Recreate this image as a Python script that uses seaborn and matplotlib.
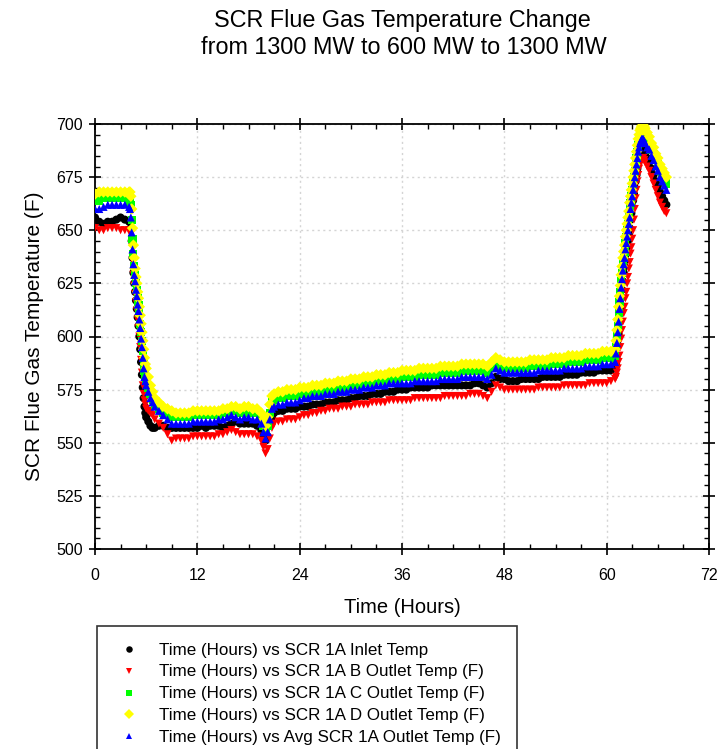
import matplotlib
matplotlib.use("Agg")
import matplotlib.pyplot as plt
from matplotlib.ticker import MultipleLocator
import pandas as pd
import seaborn as sns

# Sample times (hours since start of the load change)
hours = [
    0, 0.5, 1, 1.5, 2, 2.5, 3, 3.5, 4,
    4.1, 4.2, 4.3, 4.4, 4.5, 4.6, 4.7, 4.8, 4.9, 5.0,
    5.1, 5.2, 5.3, 5.4, 5.5, 5.6, 5.7, 5.8, 5.9, 6.0,
    6.25, 6.5, 6.75, 7.0,
    7.5, 8, 8.5, 9, 9.5, 10, 10.5, 11, 11.5, 12, 12.5, 13, 13.5,
    14, 14.5, 15, 15.5, 16, 16.5, 17, 17.5, 18, 18.5, 19, 19.5,
    19.75, 20, 20.25, 20.5, 20.75, 21,
    21.5, 22, 22.5, 23, 23.5, 24, 24.5, 25, 25.5, 26,
    26.5, 27, 27.5, 28, 28.5, 29, 29.5, 30, 30.5, 31,
    31.5, 32, 32.5, 33, 33.5, 34, 34.5, 35, 35.5, 36,
    36.5, 37, 37.5, 38, 38.5, 39, 39.5, 40, 40.5, 41,
    41.5, 42, 42.5, 43, 43.5, 44, 44.5, 45, 45.5, 46,
    46.5, 47, 47.5, 48, 48.5, 49, 49.5, 50, 50.5, 51,
    51.5, 52, 52.5, 53, 53.5, 54, 54.5, 55, 55.5, 56,
    56.5, 57, 57.5, 58, 58.5, 59, 59.5, 60, 60.5, 61,
    61.1, 61.2, 61.3, 61.4, 61.5, 61.6, 61.7, 61.8, 61.9, 62.0,
    62.1, 62.2, 62.3, 62.4, 62.5, 62.6, 62.7, 62.8, 62.9, 63.0,
    63.1, 63.2, 63.3, 63.4, 63.5, 63.6, 63.7, 63.8, 63.9, 64.0,
    64.1, 64.2, 64.3, 64.4, 64.5,
    64.75, 65, 65.25, 65.5, 65.75, 66, 66.25, 66.5, 66.75, 67,
]

inlet_temp = [
    656, 654, 653, 654, 654, 655, 656, 655, 654,
    654, 651, 645, 637, 630, 625, 621, 617, 613, 609,
    605, 600, 594, 588, 582, 576, 571, 567, 564, 562,
    560, 558, 557, 557,
    558, 558, 557, 557, 557, 557, 557, 557, 557, 557, 558, 557, 558,
    558, 558, 557, 558, 559, 560, 559, 559, 559, 559, 558, 556,
    553, 551, 553, 558, 562, 564,
    565, 565, 566, 566, 566, 567, 567, 567, 568, 568,
    568, 569, 569, 569, 570, 570, 570, 571, 571, 572,
    572, 572, 573, 573, 573, 574, 574, 574, 575, 575,
    575, 576, 576, 576, 576, 576, 577, 577, 577, 577,
    577, 577, 577, 577, 577, 577, 578, 578, 577, 576,
    578, 581, 580, 580, 579, 579, 579, 580, 580, 580,
    580, 580, 581, 581, 581, 581, 581, 582, 582, 582,
    582, 583, 583, 583, 583, 584, 584, 584, 584, 585,
    587, 591, 596, 601, 607, 613, 618, 622, 626, 630,
    633, 636, 639, 642, 645, 648, 651, 655, 658, 661,
    664, 667, 670, 673, 676, 679, 682, 684, 686, 687,
    688, 688, 688, 687, 686,
    684, 682, 679, 676, 673, 671, 668, 666, 664, 662,
]

outlet_b = [
    651, 650, 650, 651, 651, 651, 650, 650, 650,
    650, 648, 643, 636, 629, 624, 620, 616, 612, 608,
    604, 600, 595, 589, 583, 577, 573, 570, 568, 566,
    565, 564, 563, 561,
    559, 557, 554, 551, 552, 552, 552, 552, 553, 553, 553, 553, 553,
    553, 554, 554, 555, 556, 555, 554, 554, 554, 554, 553, 551,
    548, 545, 547, 552, 557, 559,
    560, 560, 561, 561, 561, 562, 563, 563, 564, 564,
    565, 565, 566, 566, 566, 567, 567, 567, 568, 568,
    568, 568, 569, 569, 569, 569, 570, 570, 570, 570,
    570, 570, 571, 571, 571, 571, 571, 571, 571, 572,
    572, 572, 572, 572, 572, 573, 573, 573, 572, 571,
    574, 577, 576, 575, 575, 575, 575, 575, 575, 575,
    575, 576, 576, 576, 576, 576, 576, 577, 577, 577,
    577, 577, 577, 578, 578, 578, 578, 578, 579, 580,
    581, 583, 585, 588, 591, 595, 599, 603, 607, 611,
    614, 618, 621, 625, 628, 632, 635, 639, 642, 646,
    650, 655, 660, 665, 669, 673, 676, 679, 681, 682,
    683, 684, 684, 683, 682,
    680, 678, 675, 672, 669, 666, 663, 661, 659, 658,
]

outlet_c = [
    664, 664, 665, 665, 665, 665, 665, 665, 664,
    665, 662, 655, 646, 639, 633, 629, 625, 622, 618,
    615, 611, 606, 602, 598, 593, 588, 584, 581, 579,
    576, 573, 570, 568,
    566, 564, 563, 562, 562, 562, 562, 562, 563, 563, 563, 563, 563,
    563, 563, 564, 564, 565, 565, 564, 564, 564, 564, 564, 561,
    558, 555, 558, 564, 569, 570,
    571, 571, 572, 572, 572, 573, 573, 573, 574, 574,
    574, 575, 575, 575, 576, 576, 576, 577, 577, 577,
    578, 578, 578, 579, 579, 579, 580, 580, 580, 581,
    581, 581, 581, 582, 582, 582, 582, 582, 583, 583,
    583, 583, 583, 584, 584, 584, 584, 584, 584, 583,
    585, 588, 586, 585, 585, 585, 585, 585, 585, 586,
    586, 586, 586, 586, 587, 587, 587, 587, 588, 588,
    588, 588, 589, 589, 589, 589, 590, 590, 590, 591,
    595, 600, 605, 611, 616, 621, 626, 630, 634, 637,
    640, 644, 647, 650, 653, 656, 660, 663, 666, 669,
    672, 675, 678, 681, 684, 687, 690, 692, 694, 695,
    696, 696, 696, 695, 694,
    692, 691, 688, 686, 683, 681, 678, 676, 674, 672,
]

outlet_d = [
    667, 668, 668, 668, 668, 668, 668, 668, 668,
    668, 666, 660, 651, 643, 637, 632, 628, 625, 621,
    618, 614, 610, 606, 602, 598, 594, 590, 587, 585,
    581, 577, 574, 571,
    569, 567, 566, 565, 564, 564, 564, 564, 565, 565, 565, 565, 565,
    565, 565, 566, 566, 567, 567, 566, 567, 567, 566, 566, 564,
    561, 558, 562, 568, 572, 573,
    574, 574, 575, 575, 575, 576, 576, 576, 577, 577,
    577, 578, 578, 578, 579, 579, 579, 580, 580, 580,
    581, 581, 581, 582, 582, 582, 583, 583, 583, 584,
    584, 584, 584, 585, 585, 585, 585, 585, 586, 586,
    586, 586, 586, 587, 587, 587, 587, 587, 587, 586,
    588, 590, 589, 588, 588, 588, 588, 588, 588, 589,
    589, 589, 589, 589, 590, 590, 590, 590, 591, 591,
    591, 591, 592, 592, 592, 592, 593, 593, 593, 594,
    598, 603, 608, 614, 619, 624, 629, 633, 637, 640,
    643, 647, 650, 653, 656, 659, 663, 666, 669, 672,
    675, 678, 681, 684, 687, 690, 693, 695, 697, 698,
    699, 699, 699, 699, 698,
    696, 694, 691, 689, 686, 684, 681, 679, 677, 675,
]

outlet_avg = [
    660, 660, 661, 662, 662, 662, 662, 662, 661,
    660, 656, 649, 641, 634, 629, 626, 622, 619, 615,
    612, 608, 604, 599, 595, 590, 585, 581, 579, 577,
    574, 571, 569, 567,
    565, 563, 561, 559, 559, 559, 559, 559, 560, 560, 560, 560, 560,
    560, 561, 561, 562, 563, 562, 561, 562, 562, 561, 561, 559,
    555, 552, 555, 561, 566, 567,
    568, 568, 569, 569, 569, 570, 571, 571, 572, 572,
    572, 573, 573, 573, 574, 574, 574, 575, 575, 575,
    576, 576, 576, 577, 577, 577, 578, 578, 578, 578,
    578, 578, 579, 579, 579, 579, 579, 579, 580, 580,
    580, 580, 580, 581, 581, 581, 581, 581, 581, 580,
    582, 585, 584, 583, 583, 583, 583, 583, 583, 583,
    583, 584, 584, 584, 584, 584, 584, 585, 585, 585,
    585, 585, 586, 586, 586, 586, 587, 587, 587, 588,
    592, 597, 602, 607, 613, 618, 623, 627, 631, 634,
    637, 641, 644, 647, 650, 653, 656, 660, 663, 666,
    669, 672, 675, 678, 681, 684, 687, 689, 691, 692,
    693, 693, 693, 692, 691,
    689, 688, 685, 683, 680, 678, 675, 673, 671, 669,
]

series_names = [
    "Time (Hours) vs SCR 1A Inlet Temp",
    "Time (Hours) vs SCR 1A B Outlet Temp (F)",
    "Time (Hours) vs SCR 1A C Outlet Temp (F)",
    "Time (Hours) vs SCR 1A D Outlet Temp (F)",
    "Time (Hours) vs Avg SCR 1A Outlet Temp (F)",
]
series_values = [inlet_temp, outlet_b, outlet_c, outlet_d, outlet_avg]
series_colors = ["#000000", "#ff0000", "#00ff00", "#ffff00", "#0000ff"]
series_markers = ["o", "v", "s", "D", "^"]

frames = []
for name, vals in zip(series_names, series_values):
    assert len(vals) == len(hours), name
    frames.append(pd.DataFrame({"hours": hours, "temp": vals, "series": name}))
df = pd.concat(frames, ignore_index=True)

sns.set_theme(style="white")
plt.rcParams["font.family"] = ["Liberation Sans", "DejaVu Sans"]
plt.rcParams["text.color"] = "black"
plt.rcParams["axes.labelcolor"] = "black"

fig = plt.figure(figsize=(7.19, 7.49), dpi=100)
ax = fig.add_axes([95 / 719, 1 - 549 / 749, 614 / 719, 425 / 749])

sns.scatterplot(
    data=df, x="hours", y="temp",
    hue="series", style="series",
    hue_order=series_names, style_order=series_names,
    palette=dict(zip(series_names, series_colors)),
    markers=dict(zip(series_names, series_markers)),
    s=34, linewidth=0, ax=ax, legend=True, zorder=3,
)

ax.set_xlim(0, 72)
ax.set_ylim(500, 700)
ax.xaxis.set_major_locator(MultipleLocator(12))
ax.xaxis.set_minor_locator(MultipleLocator(3))
ax.yaxis.set_major_locator(MultipleLocator(25))
ax.yaxis.set_minor_locator(MultipleLocator(5))

ax.grid(True, which="major", color="#d4d4d4", linestyle=(0, (1.5, 2.5)), linewidth=1.0, zorder=0)
for sp in ax.spines.values():
    sp.set_visible(True)
    sp.set_color("black")
    sp.set_linewidth(1.3)

ax.tick_params(which="both", top=True, right=True, bottom=True, left=True,
               colors="black", labelcolor="black")
ax.tick_params(axis="x", which="major", pad=9)
ax.tick_params(axis="y", which="major", pad=4)
ax.tick_params(which="major", direction="inout", length=9, width=1.2, labelsize=11.5)
ax.tick_params(which="minor", direction="in", length=3.5, width=1.0)

ax.set_xlabel("Time (Hours)", fontsize=14.5, labelpad=11)
ax.set_ylabel("SCR Flue Gas Temperature (F)", fontsize=15, labelpad=9)

fig.text(402 / 719, 1 - 9.5 / 749, "SCR Flue Gas Temperature Change",
         ha="center", va="top", fontsize=16.8)
fig.text(404 / 719, 1 - 36.5 / 749, "from 1300 MW to 600 MW to 1300 MW",
         ha="center", va="top", fontsize=16.8)

handles, labels = ax.get_legend_handles_labels()
ax.get_legend().remove()
leg = fig.legend(handles, labels, loc="upper left",
                 bbox_to_anchor=(97 / 719, 1 - 626 / 749),
                 bbox_transform=fig.transFigure,
                 fontsize=12.25, frameon=True, fancybox=False,
                 borderaxespad=0, borderpad=0.97, handlelength=1.8,
                 handletextpad=0.85, labelspacing=0.41, markerscale=0.8)
leg.get_frame().set_edgecolor("black")
leg.get_frame().set_linewidth(1.2)

fig.savefig("out.png", dpi=100, facecolor="white")
